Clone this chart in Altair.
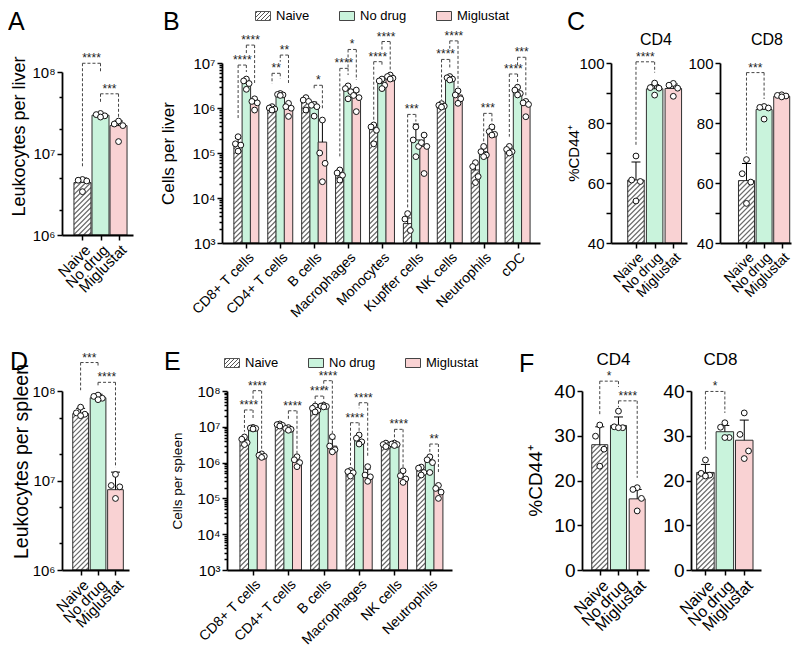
import json
import altair as alt
import pandas as pd

FONT = "Liberation Sans"
GROUPS = ["Naive", "No drug", "Miglustat"]
GREEN = "#c9f3dc"
PINK = "#f9d2d3"
EDGE = "#2f2f2f"
HATCH = "#6b6b6b"

# ---------------- A: leukocytes per liver ----------------
A_mean = [[4.4e6], [2.95e7], [2.2e7]]
A_err = [[5.0e6], [3.1e7], [2.5e7]]
A_pts = [[[4.8e6, 4.7e6, 4.6e6, 3.4e6]], [[3.1e7, 3.0e7, 2.9e7, 2.8e7]], [[2.5e7, 2.3e7, 2.2e7, 1.4e7]]]
A_brk = [(0, 0, 1, 1.28e8, 6.9e6, 1.0e8, "****"), (0, 1, 2, 5.4e7, 4.3e7, 2.7e7, "***")]

# ---------------- B: cells per liver ----------------
B_cats = ["CD8+ T cells", "CD4+ T cells", "B cells", "Macrophages", "Monocytes",
          "Kupffer cells", "NK cells", "Neutrophils", "cDC"]
B_mean = [
    [1.7e5, 9.6e5, 1.4e6, 3.6e4, 3.4e5, 2.7e3, 1.1e6, 4.2e4, 1.2e5],
    [3.5e6, 2.0e6, 1.15e6, 2.6e6, 3.5e6, 1.95e5, 4.8e6, 1.07e5, 2.3e6],
    [1.35e6, 1.03e6, 1.75e5, 1.9e6, 4.7e6, 1.4e5, 1.95e6, 2.7e5, 1.17e6],
]
B_err = [
    [2.1e5, 1.05e6, 1.6e6, 4.3e4, 4.2e5, 3.6e3, 1.2e6, 5.5e4, 1.35e5],
    [4.2e6, 2.1e6, 1.35e6, 3.0e6, 4.2e6, 4.4e5, 5.1e6, 1.3e5, 2.8e6],
    [1.55e6, 1.25e6, 5.3e5, 2.3e6, 5.3e6, 2.5e5, 2.3e6, 3.4e5, 1.4e6],
]
B_pts = [
    [[2.3e5, 1.6e5, 1.5e5, 1.1e5], [1.07e6, 1.0e6, 9.5e5, 9.0e5], [1.7e6, 1.5e6, 1.4e6, 9.0e5],
     [4.2e4, 3.6e4, 3.2e4, 2.5e4], [4.2e5, 3.8e5, 3.2e5, 1.6e5], [4.5e3, 3.4e3, 1.9e3],
     [1.25e6, 1.15e6, 1.1e6, 1.05e6], [6.1e4, 5.0e4, 3.0e4, 2.2e4], [1.4e5, 1.2e5, 1.07e5, 1.0e5]],
    [[4.4e6, 4.0e6, 3.5e6, 2.6e6], [2.1e6, 2.0e6, 1.95e6, 1.9e6], [1.2e6, 1.15e6, 1.07e6, 6.6e5],
     [3.1e6, 2.7e6, 2.3e6, 1.6e6], [4.4e6, 4.0e6, 3.2e6, 2.7e6], [3.8e5, 1.95e5, 1.4e5, 8.3e4],
     [5.0e6, 4.7e6, 4.4e6, 4.2e6], [1.4e5, 1.07e5, 9.0e4, 8.3e4], [2.9e6, 2.5e6, 2.1e6, 1.95e6]],
    [[1.6e6, 1.4e6, 1.3e6, 9.0e5], [1.27e6, 1.07e6, 9.9e5, 6.5e5], [5.4e5, 1.0e5, 5.9e4, 2.3e4],
     [2.5e6, 1.9e6, 1.7e6, 8.3e5], [5.4e6, 5.0e6, 4.6e6, 4.4e6], [2.5e5, 1.7e5, 1.4e5, 3.5e4],
     [2.4e6, 1.95e6, 1.6e6, 1.27e6], [3.8e5, 3.0e5, 2.6e5, 2.5e5], [1.4e6, 1.3e6, 1.2e6, 6.4e5]],
]
B_brk = [
    (0, 0, 1, 9.0e6, 5.4e5, 6.3e6, "****"), (0, 1, 2, 2.5e7, 1.5e7, 3.6e6, "****"),
    (1, 0, 1, 5.9e6, 3.5e6, 4.5e6, "**"), (1, 1, 2, 1.5e7, 1.07e7, 3.6e6, "**"),
    (2, 1, 2, 3.2e6, 2.5e6, 9.5e5, "*"),
    (3, 0, 1, 7.6e6, 7.6e4, 5.4e6, "****"), (3, 1, 2, 2.0e7, 7.7e6, 4.2e6, "*"),
    (4, 0, 1, 1.07e7, 5.4e5, 8.3e6, "****"), (4, 1, 2, 3.0e7, 1.9e7, 6.4e6, "****"),
    (5, 0, 1, 7.2e5, 6.0e3, 5.0e5, "***"),
    (6, 0, 1, 1.2e7, 1.5e6, 7.6e6, "****"), (6, 1, 2, 3.1e7, 2.1e7, 2.9e6, "****"),
    (7, 1, 2, 7.6e5, 1.65e5, 5.0e5, "***"),
    (8, 0, 1, 5.7e6, 2.3e5, 3.2e6, "****"), (8, 1, 2, 1.34e7, 9.0e6, 1.8e6, "***"),
]

# ---------------- C: %CD44+ liver ----------------
C4_mean = [[61.0], [91.4], [91.5]]
C4_err = [[67.0], [92.8], [93.0]]
C4_pts = [[[69.0, 61.0, 60.5, 54.0]], [[93.3, 91.8, 91.6, 89.3]], [[93.2, 92.6, 91.6, 88.9]]]
C4_brk = [(0, 0, 1, 100.4, 72.5, 96.8, "****")]
C8_mean = [[60.8], [84.5], [88.9]]
C8_err = [[66.5], [85.8], [89.5]]
C8_pts = [[[67.8, 63.1, 60.3, 53.2]], [[85.5, 85.2, 85.0, 81.3]], [[89.4, 89.2, 89.0, 88.7]]]
C8_brk = [(0, 0, 1, 96.8, 69.8, 88.0, "***")]

# ---------------- D: leukocytes per spleen ----------------
D_mean = [[5.6e7], [8.4e7], [7.9e6]]
D_err = [[6.4e7], [9.2e7], [1.24e7]]
D_pts = [[[6.6e7, 5.7e7, 5.5e7, 5.3e7]], [[9.0e7, 8.7e7, 8.3e7, 8.0e7]], [[1.17e7, 8.8e6, 8.5e6, 6.3e6]]]
D_brk = [(0, 0, 1, 2.08e8, 1.02e8, 1.87e8, "***"), (0, 1, 2, 1.25e8, 1.14e8, 1.4e7, "****")]

# ---------------- E: cells per spleen ----------------
E_cats = ["CD8+ T cells", "CD4+ T cells", "B cells", "Macrophages", "NK cells", "Neutrophils"]
E_mean = [
    [3.8e6, 1.12e7, 2.95e7, 5.6e5, 3.1e6, 5.9e5],
    [9.0e6, 8.5e6, 3.8e7, 4.1e6, 3.2e6, 1.15e6],
    [1.5e6, 1.15e6, 2.9e6, 4.4e5, 3.9e5, 1.65e5],
]
E_err = [
    [4.9e6, 1.2e7, 3.5e7, 6.2e5, 3.4e6, 7.2e5],
    [9.5e6, 9.3e6, 4.0e7, 5.3e6, 3.4e6, 1.45e6],
    [1.7e6, 1.42e6, 4.6e6, 6.6e5, 5.5e5, 2.3e5],
]
E_pts = [
    [[5.2e6, 4.5e6, 3.6e6, 3.2e6], [1.2e7, 1.15e7, 1.1e7, 1.05e7], [3.8e7, 3.3e7, 2.9e7, 2.6e7],
     [6.0e5, 5.6e5, 5.2e5, 4.2e5], [3.5e6, 3.2e6, 3.0e6, 2.8e6], [7.5e5, 7.0e5, 5.3e5, 4.5e5]],
    [[9.6e6, 9.2e6, 9.0e6, 8.7e6], [9.5e6, 9.0e6, 8.5e6, 8.0e6], [4.0e7, 3.8e7, 3.7e7, 3.6e7],
     [5.9e6, 4.8e6, 3.8e6, 3.3e6], [3.5e6, 3.3e6, 3.2e6, 3.0e6], [1.45e6, 1.2e6, 1.0e6, 5.3e5]],
    [[1.75e6, 1.6e6, 1.5e6, 1.4e6], [1.46e6, 1.2e6, 1.0e6, 7.7e5], [5.3e6, 2.9e6, 2.3e6, 2.0e6],
     [7.7e5, 4.5e5, 4.0e5, 3.0e5], [5.9e5, 4.3e5, 3.5e5, 2.8e5], [2.3e5, 1.9e5, 1.5e5, 1.0e5]],
]
E_brk = [
    (0, 0, 1, 2.95e7, 7.3e6, 1.55e7, "****"), (0, 1, 2, 1.02e8, 5.6e7, 2.2e6, "****"),
    (1, 1, 2, 2.8e7, 1.55e7, 1.8e6, "****"),
    (2, 0, 1, 7.2e7, 4.1e7, 5.0e7, "****"), (2, 1, 2, 1.94e8, 1.07e8, 6.6e6, "****"),
    (3, 0, 1, 1.3e7, 8.5e5, 7.3e6, "****"), (3, 1, 2, 4.7e7, 3.3e7, 1.45e6, "****"),
    (4, 1, 2, 8.5e6, 4.3e6, 6.9e5, "****"),
    (5, 1, 2, 3.3e6, 2.0e6, 5.0e5, "**"),
]

# ---------------- F: %CD44+ spleen ----------------
F4_mean = [[28.0], [32.3], [15.9]]
F4_err = [[32.0], [34.2], [18.0]]
F4_pts = [[[32.4, 29.9, 27.0, 23.2]], [[35.5, 32.0, 31.8, 31.8]], [[18.4, 18.0, 16.0, 13.2]]]
F4_brk = [(0, 0, 1, 42.2, 34.8, 40.9, "*"), (0, 1, 2, 37.8, 36.4, 20.6, "****")]
F8_mean = [[21.8], [30.9], [29.0]]
F8_err = [[23.6], [32.3], [33.5]]
F8_pts = [[[24.6, 21.6, 21.2, 21.0]], [[32.9, 31.9, 29.6, 29.6]], [[35.1, 30.3, 26.6, 24.9]]]
F8_brk = [(0, 0, 1, 39.9, 26.6, 35.1, "*")]

# ---------------------------------------------------------------------------
ISDEC = "abs(log(datum.value)/LN10 - round(log(datum.value)/LN10)) < 0.001"
SUPS = "['\u2070','\u00b9','\u00b2','\u00b3','\u2074','\u2075','\u2076','\u2077','\u2078','\u2079']"
ONE = pd.DataFrame({"k": [0]})


def hatch_path(w, h, gap=5.0):
    r = w / 2.0
    parts = []
    c = w - gap / 2.0
    while c > -h:
        xa = max(0.0, c)
        xb = min(w, c + h)
        if xb - xa > 0.2:
            parts.append(f"M{xa / r - 1:.3f},{(c - xa) / r:.3f}L{xb / r - 1:.3f},{(c - xb) / r:.3f}")
        c -= gap
    return "".join(parts)


def legend_swatch(hatched):
    rect = "M-1,-0.6L1,-0.6L1,0.6L-1,0.6Z"
    if not hatched:
        return rect
    w, hh, gap, r = 15.0, 9.0, 4.0, 7.5
    parts = [rect]
    c = w - gap / 2.0
    while c > -hh:
        xa = max(0.0, c)
        xb = min(w, c + hh)
        if xb - xa > 0.2:
            parts.append(f"M{xa / r - 1:.3f},{(c - xa + 4.5) / r:.3f}L{xb / r - 1:.3f},{(c - xb + 4.5) / r:.3f}")
        c -= gap
    return "".join(parts)


def build(cats, xlabels, means, errs, pts, brks, P):
    n = len(cats)
    single = n == 1
    off = [0.0, 1.0, 2.0] if single else [-P["goff"], 0.0, P["goff"]]
    ppu = P["w"] / (P["xdom"][1] - P["xdom"][0])
    ydom = P["ydom"]

    def pos(i, g):
        return i + off[g]

    bars, pr = [], []
    for g in range(3):
        for i in range(n):
            bars.append({"x": pos(i, g), "m": means[g][i], "e": errs[g][i], "g": g})
            vals = sorted(pts[g][i], reverse=True)
            pattern = [0, -1, 1, 0, 0]
            for k, v in enumerate(vals):
                pr.append({"x": pos(i, g) + pattern[k] * P["jit"] / ppu, "v": v})
    bdf = pd.DataFrame(bars)

    ys_kw = dict(type="log" if P["log"] else "linear", domain=list(ydom), nice=False)
    if not P["log"]:
        ys_kw["zero"] = False
    if "yrange" in P:
        ys_kw["range"] = P["yrange"]
    YS = alt.Scale(**ys_kw)
    XS = alt.Scale(domain=list(P["xdom"]), nice=False, zero=False)

    xa_kw = dict(values=list(range(len(xlabels))),
                 labelExpr=json.dumps(xlabels) + "[round(datum.value)]",
                 title=None, labelAngle=315, labelAlign="right", labelBaseline="top",
                 labelFont=FONT, labelFontSize=P["xls"], labelColor="black", labelPadding=2,
                 labelOverlap=False, labelFlush=False, tickSize=5, tickWidth=1.5, tickColor="black",
                 domainColor="black", domainWidth=1.8, grid=False, zindex=1)
    if "xoff" in P:
        xa_kw["offset"] = P["xoff"]
    XA = alt.Axis(**xa_kw)

    if P["log"]:
        lo, hi = P["exps"]
        vals = []
        for e in range(lo, hi + 1):
            vals.append(10 ** e)
            if e < hi:
                vals += [m * 10 ** e for m in P["minor"]]
        lab = ISDEC + " ? '10' + " + SUPS + "[round(log(datum.value)/LN10)] : ''"
        tsize = {"condition": {"test": ISDEC, "value": 5}, "value": 3}
    else:
        vals = P["yticks"]
        lab = P["ylab"]
        tsize = 5
    ya_kw = dict(values=vals, labelExpr=lab, labelFont=FONT, labelFontSize=P["yls"],
                 labelColor="black", labelPadding=2, labelOverlap=False, labelFlush=False,
                 tickSize=tsize, tickWidth=1.5, tickColor="black", domainColor="black",
                 domainWidth=1.8, grid=False, zindex=1)
    if P.get("ytitle"):
        ya_kw.update(title=P["ytitle"], titleFont=FONT, titleFontSize=P["yts"],
                     titleFontWeight="normal", titleColor="black", titleX=P["ytx"],
                     titleBaseline="middle", titleAngle=270)
        if "yty" in P:
            ya_kw["titleY"] = P["yty"]
    else:
        ya_kw["title"] = None
    YA = alt.Axis(**ya_kw)

    def X(f):
        return alt.X(f, type="quantitative", scale=XS, axis=XA)

    def Y(f):
        return alt.Y(f, type="quantitative", scale=YS, axis=YA)

    span = (P["yrange"][0] - P["yrange"][1]) if "yrange" in P else P["h"]
    bw = P["bw"]
    L = []
    L.append(alt.Chart(ONE).mark_rule(opacity=0, strokeWidth=1).encode(
        x=alt.value(-P["mk"][0]), x2=alt.value(P["mk"][1]),
        y=alt.value(-P["mk"][2]), y2=alt.value(P["mk"][3])))
    nd = bdf[bdf.g == 0]
    L.append(alt.Chart(nd).mark_point(shape=hatch_path(bw, span - 4.0), size=bw * bw, filled=False,
                                      stroke=HATCH, strokeWidth=1.1, opacity=1).encode(
        x=X("x"), y=alt.YDatum(ydom[0], type="quantitative", scale=YS, axis=YA)))
    L.append(alt.Chart(nd).mark_bar(size=bw + 2.2, fill="white", opacity=1).encode(
        x=X("x"), y=Y("m"), y2=alt.Y2Datum(ydom[1])))
    cols = [None, GREEN, PINK]
    for g in range(3):
        d = bdf[bdf.g == g]
        if g == 0:
            mk = alt.Chart(d).mark_bar(size=bw, filled=False, stroke=EDGE, strokeWidth=1, opacity=1)
        else:
            mk = alt.Chart(d).mark_bar(size=bw, fill=cols[g], stroke=EDGE, strokeWidth=1, opacity=1)
        L.append(mk.encode(x=X("x"), y=Y("m"), y2=alt.Y2Datum(ydom[0])))
    L.append(alt.Chart(bdf).mark_rule(color="black", strokeWidth=1).encode(
        x=X("x"), y=Y("m"), y2=alt.Y2("e")))
    L.append(alt.Chart(bdf).mark_tick(orient="horizontal", size=P["cap"], thickness=1,
                                      color="black", opacity=1).encode(x=X("x"), y=Y("e")))
    L.append(alt.Chart(pd.DataFrame(pr)).mark_point(shape="circle", filled=True, fill="white",
                                                    stroke="#111111", strokeWidth=1, size=34,
                                                    opacity=1).encode(x=X("x"), y=Y("v")))
    lines, labels = [], []
    for (i, gl, gr, top, le, rend, lab_) in brks:
        xl, xr = pos(i, gl), pos(i, gr)
        lines += [{"x": xl, "x2": xl, "y": top, "y2": le},
                  {"x": xr, "x2": xr, "y": top, "y2": rend},
                  {"x": xl, "x2": xr, "y": top, "y2": top}]
        labels.append({"x": (xl + xr) / 2.0, "y": top, "t": lab_})
    L.append(alt.Chart(pd.DataFrame(lines)).mark_rule(color="#454545", strokeWidth=1,
                                                      strokeDash=[3, 2]).encode(
        x=X("x"), x2=alt.X2("x2"), y=Y("y"), y2=alt.Y2("y2")))
    L.append(alt.Chart(pd.DataFrame(labels)).mark_text(font=FONT, fontSize=12, color="#222222",
                                                       align="center", baseline="alphabetic",
                                                       dy=-1).encode(
        x=X("x"), y=Y("y"), text="t:N"))
    if P.get("letter"):
        L.append(alt.Chart(ONE).mark_text(text=P["letter"], font=FONT, fontSize=25, color="black",
                                          align="left", baseline="alphabetic").encode(
            x=alt.value(P["lxy"][0]), y=alt.value(P["lxy"][1])))
    if P.get("title"):
        L.append(alt.Chart(ONE).mark_text(text=P["title"], font=FONT, fontSize=P["tfs"], color="black",
                                          align="center", baseline="alphabetic").encode(
            x=alt.value(P["txy"][0]), y=alt.value(P["txy"][1])))
    if P.get("legend"):
        leg = alt.Legend(title=None, orient="none", legendX=P["legend"][0], legendY=P["legend"][1],
                         direction="horizontal", symbolSize=225, symbolStrokeWidth=1,
                         labelFont=FONT, labelFontSize=13, labelColor="black",
                         columnPadding=27, labelOffset=5, symbolOpacity=1, padding=0)
        L.append(alt.Chart(pd.DataFrame({"group": GROUPS})).transform_filter("false").mark_point(
            filled=True, opacity=1, strokeWidth=1).encode(
            shape=alt.Shape("group:N", scale=alt.Scale(domain=GROUPS, range=[
                legend_swatch(True), legend_swatch(False), legend_swatch(False)]), legend=leg),
            fill=alt.Fill("group:N", scale=alt.Scale(domain=GROUPS, range=["white", GREEN, PINK]),
                          legend=leg),
            stroke=alt.Stroke("group:N", scale=alt.Scale(domain=GROUPS,
                                                         range=["#555555", "#444444", "#444444"]),
                              legend=leg)))
    return alt.layer(*L).properties(width=P["w"], height=P["h"])


LOGMIN2 = [2, 5]
LOGMIN9 = [2, 3, 4, 5, 6, 7, 8, 9]

pA = build([""], GROUPS, A_mean, A_err, A_pts, A_brk, dict(
    w=71, h=180, yrange=[172, 9], xoff=-8, xdom=[-0.857, 2.524], ydom=[1e6, 1e8], log=True,
    exps=(6, 8), minor=LOGMIN2, bw=17, cap=9, jit=5, ytitle="Leukocytes per liver", ytx=-43,
    yty=73, yts=18, yls=15, xls=15, letter="A", lxy=(-54, -33), mk=(54, 71, 55, 264)))
pB = build(B_cats, B_cats, B_mean, B_err, B_pts, B_brk, dict(
    w=318, h=180, xdom=[-0.571, 8.514], goff=0.243, ydom=[1e3, 1e7], log=True, exps=(3, 7),
    minor=LOGMIN9, bw=8.5, cap=6, jit=2.8, ytitle="Cells per liver", ytx=-54, yts=17, yls=15,
    xls=14, letter="B", lxy=(-59, -33), legend=(33, -55), mk=(89, 318, 55, 264)))
pC4 = build([""], GROUPS, C4_mean, C4_err, C4_pts, C4_brk, dict(
    w=76, h=180, xdom=[-1.07, 2.465], ydom=[40, 100], log=False, yticks=[40, 50, 60, 70, 80, 90, 100],
    ylab="datum.value % 20 == 0 ? datum.label : ''", bw=16.5, cap=9, jit=5,
    ytitle="%CD44\u207a", ytx=-38, yts=15, yls=15, xls=14, letter="C", lxy=(-44, -33),
    title="CD4", tfs=16, txy=(45, -18), mk=(71, 76, 55, 264)))
pC8 = build([""], GROUPS, C8_mean, C8_err, C8_pts, C8_brk, dict(
    w=71, h=180, xdom=[-1.22, 2.244], ydom=[40, 100], log=False, yticks=[40, 50, 60, 70, 80, 90, 100],
    ylab="datum.value % 20 == 0 ? datum.label : ''", bw=16, cap=9, jit=5, yls=15, xls=14,
    title="CD8", tfs=16, txy=(47, -18), mk=(32, 71, 55, 264)))

pD = build([""], GROUPS, D_mean, D_err, D_pts, D_brk, dict(
    w=67, h=179, xdom=[-0.78, 2.488], ydom=[1e6, 1e8], log=True, exps=(6, 8), minor=LOGMIN2,
    bw=15.7, cap=9, jit=5, ytitle="Leukocytes per spleen", ytx=-41, yty=70, yts=19.5, yls=15,
    xls=15, letter="D", lxy=(-52, -21), mk=(52, 67, 58, 260)))
pE = build(E_cats, E_cats, E_mean, E_err, E_pts, E_brk, dict(
    w=225, h=179, xdom=[-0.595, 5.486], goff=0.243, ydom=[1e3, 1e8], log=True, exps=(3, 8),
    minor=LOGMIN9, bw=9, cap=6, jit=2.8, ytitle="Cells per spleen", ytx=-50, yts=13.5, yls=15,
    xls=14, letter="E", lxy=(-63, -21), legend=(-3, -36), mk=(98, 245, 58, 260)))
pF4 = build([""], GROUPS, F4_mean, F4_err, F4_pts, F4_brk, dict(
    w=67, h=179, xdom=[-0.682, 2.364], ydom=[0, 40], log=False, yticks=[0, 10, 20, 30, 40],
    ylab="datum.label", bw=16, cap=9, jit=5, ytitle="%CD44\u207a", ytx=-47, yts=19, yls=19,
    xls=16, letter="F", lxy=(-63, -19), title="CD4", tfs=17, txy=(31.5, -26),
    mk=(103, 67, 58, 260)))
pF8 = build([""], GROUPS, F8_mean, F8_err, F8_pts, F8_brk, dict(
    w=70, h=179, xdom=[-0.486, 2.605], ydom=[0, 40], log=False, yticks=[0, 10, 20, 30, 40],
    ylab="datum.label", bw=17.5, cap=9, jit=5, yls=19, xls=16, title="CD8", tfs=17,
    txy=(29.5, -26), mk=(42, 70, 58, 260)))

RES = dict(fill="independent", shape="independent", stroke="independent")
row1 = alt.hconcat(pA, pB, pC4, pC8, spacing=0).resolve_scale(**RES)
row2 = alt.hconcat(pD, pE, pF4, pF8, spacing=0).resolve_scale(**RES)
chart = alt.vconcat(row1, row2, spacing=6).resolve_scale(**RES).properties(
    padding={"left": 0, "top": 0, "right": 0, "bottom": 0}, background="white"
).configure_view(strokeWidth=0)

chart.save("out.html", embed_options={"renderer": "svg", "actions": False})
